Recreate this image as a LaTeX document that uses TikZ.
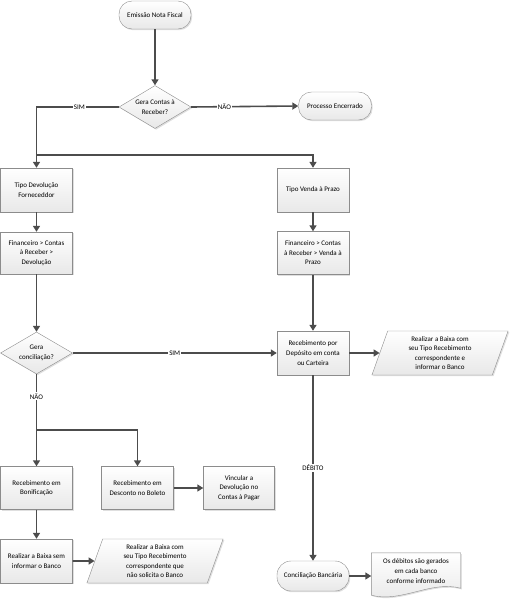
\documentclass[tikz,border=0pt]{standalone}
\usepackage{fontspec}
\setmainfont{Carlito}
\usetikzlibrary{positioning,arrows.meta,shapes.geometric,shadows,backgrounds}

\begin{document}
\begin{tikzpicture}[x=1pt,y=1pt,font=\fontsize{7}{9.6}\selectfont,
  base/.style={draw=black!45,top color=white,bottom color=black!9,align=center,inner sep=2pt,
    drop shadow={shadow xshift=1.2pt,shadow yshift=-1.2pt,opacity=.25}},
  proc/.style={base,rectangle,minimum width=72pt,minimum height=43pt},
  term/.style={base,rectangle,rounded corners=13pt,minimum width=72pt,minimum height=28pt},
  dec/.style={base,diamond,aspect=1.7,inner sep=0pt,minimum width=72pt,minimum height=43pt},
  io/.style={base,trapezium,trapezium left angle=75,trapezium right angle=105,
    trapezium stretches=true,minimum width=137pt,minimum height=44pt},
  ar/.style={-{Triangle[length=6pt,width=7pt]},line width=1.6pt,draw=black!70},
  lbl/.style={fill=white,inner sep=1pt}]
\useasboundingbox (0,0) rectangle (511,-600);
\node[term] (ini) at (155,-15) {Emissão Nota Fiscal};
\node[dec] (dec1) at (155,-107) {Gera Contas à\\Receber?};
\node[term,minimum width=73pt] (fim) at (335,-106) {Processo Encerrado};
\node[proc,minimum height=44pt] (tdev) at (36.5,-190) {Tipo Devolução\\Forneceddor};
\node[proc,minimum height=44pt] (tvd) at (313,-190) {Tipo Venda à Prazo};
\node[proc,minimum height=42pt] (fdev) at (36.5,-253) {Financeiro > Contas\\à Receber >\\Devolução};
\node[proc] (fvd) at (313,-253) {Financeiro > Contas\\à Receber > Venda à\\Prazo};
\node[dec,minimum height=42pt] (dec2) at (36.5,-353) {Gera\\conciliação?};
\node[proc,minimum height=44pt] (rdep) at (313,-353) {Recebimento por\\Depósito em conta\\ou Carteira};
\node[io] (io1) at (440,-353) {Realizar a Baixa com\\seu Tipo Recebimento\\correspondente e\\informar o Banco};
\node[proc] (bonif) at (36.5,-488) {Recebimento em\\Bonificação};
\node[proc] (desc) at (137.5,-488) {Recebimento em\\Desconto no Boleto};
\node[proc,minimum width=71pt] (vinc) at (239,-488) {Vincular a\\Devolução no\\Contas à Pagar};
\node[proc,minimum height=44pt] (rbaixa) at (36.5,-561) {Realizar a Baixa sem\\informar o Banco};
\node[io] (io2) at (155,-561) {Realizar a Baixa com\\seu Tipo Recebimento\\correspondente que\\não solicita o Banco};
\node[term,minimum height=30pt,rounded corners=14pt] (conc) at (313,-576) {Conciliação Bancária};
\node[align=center,minimum width=89pt,minimum height=36pt,inner sep=2pt] (docx) at (416,-571)
  {Os débitos são gerados\\em cada banco\\conforme informado};
\begin{scope}[on background layer]
\draw[draw=black!45,top color=white,bottom color=black!9,
  drop shadow={shadow xshift=1.2pt,shadow yshift=-1.2pt,opacity=.25}]
  (docx.north west) -- (docx.north east) -- ([yshift=1pt]docx.south east)
  .. controls +(-30pt,8pt) and +(30pt,-8pt) .. ([yshift=-6pt]docx.south west) -- cycle;
\end{scope}
\coordinate (j1) at (36.5,-155);
\coordinate (j2) at (36.5,-430);
\draw[ar] (ini) -- (dec1);
\draw[ar] (dec1.west) -| node[lbl,pos=0.24] {SIM} (tdev.north);
\draw[ar] (j1) -| (tvd.north);
\draw[ar] (dec1.east) -- node[lbl,pos=0.31] {NÃO} (fim.west);
\draw[ar] (tdev) -- (fdev);
\draw[ar] (tvd) -- (fvd);
\draw[ar] (fdev) -- (dec2);
\draw[ar] (fvd) -- (rdep);
\draw[ar] (dec2.east) -- node[lbl] {SIM} (rdep.west);
\draw[ar] (rdep) -- (io1);
\draw[ar] (dec2.south) -- node[lbl,pos=0.24] {NÃO} (bonif.north);
\draw[ar] (j2) -| (desc.north);
\draw[ar] (desc) -- (vinc);
\draw[ar] (bonif) -- (rbaixa);
\draw[ar] (rbaixa) -- (io2);
\draw[ar] (rdep) -- node[lbl] {DÉBITO} (conc);
\draw[ar] (conc) -- (docx.west |- conc);
\end{tikzpicture}
\end{document}
